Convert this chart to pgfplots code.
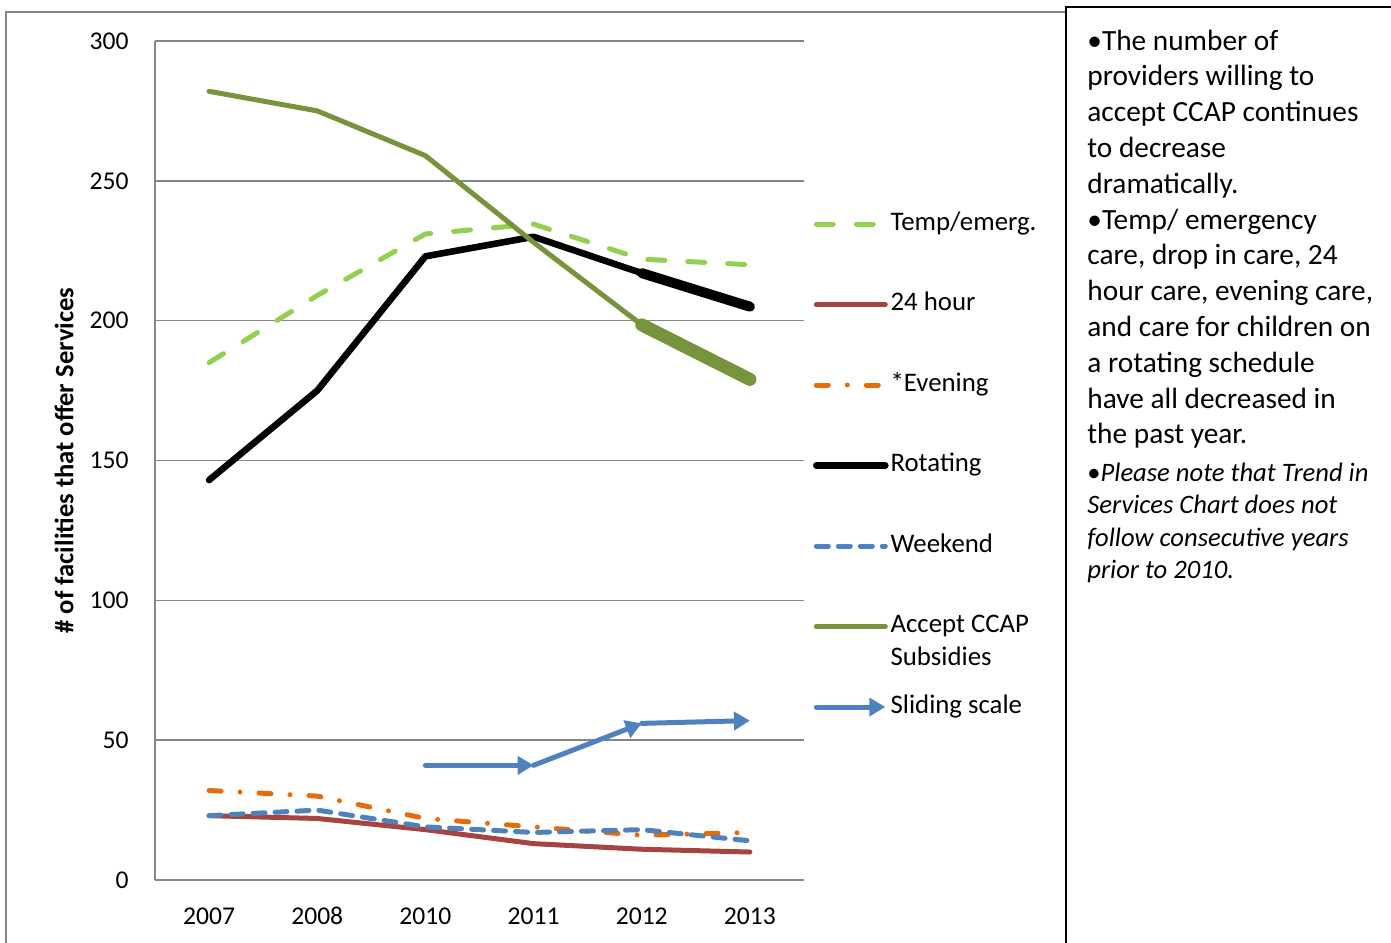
\documentclass[border=0pt]{standalone}
\usepackage{pgfplots}
\pgfplotsset{compat=1.18}
\usepackage{fontspec}
\setmainfont{Carlito}
\usetikzlibrary{arrows.meta}
\definecolor{gridgray}{HTML}{868686}
\definecolor{tempc}{HTML}{92D050}
\definecolor{hourc}{HTML}{A64441}
\definecolor{evec}{HTML}{E46C0A}
\definecolor{weekc}{HTML}{4F81BD}
\definecolor{ccapc}{HTML}{77933C}
\definecolor{slidec}{HTML}{4F81BD}
\begin{document}
\begin{tikzpicture}[x=1pt,y=1pt]
\useasboundingbox (0,0) rectangle (695.5,471);
\begin{scope}
\clip (0,0) rectangle (695.5,471);
\draw[gridgray, line width=1pt] (3,-5) -- (3,465) -- (533,465);
\draw[black, line width=1.1pt] (533,-5) -- (533,467.5) -- (705,467.5);
\end{scope}
\begin{axis}[
  at={(77.5pt,31pt)}, anchor=south west,
  scale only axis, width=324.5pt, height=419.5pt,
  xmin=-0.5, xmax=5.5, ymin=0, ymax=300,
  xtick={0,...,5}, xticklabels={2007,2008,2010,2011,2012,2013},
  ytick={0,50,...,300},
  axis lines*=left,
  axis line style={-, gridgray, line width=1pt},
  major tick length=0pt,
  ymajorgrids, grid style={gridgray, line width=0.75pt},
  /pgf/number format/assume math mode=true,
  tick label style={font=\fontsize{12.8}{15}\selectfont, inner sep=0pt},
  yticklabel style={xshift=-13pt},
  xticklabel style={yshift=-13.5pt},
  ylabel={\# of facilities that offer Services},
  ylabel style={font=\fontsize{13.3}{15}\selectfont\bfseries, at={(axis description cs:-0.14,0.5)}, anchor=center},
  legend style={at={(1.01387,0.79618)}, anchor=north west, draw=none, fill=none,
    inner sep=0pt, outer sep=0pt,
    font=\fontsize{13.4}{16.5}\selectfont,
    row sep=28.25pt, column sep=1pt,
    nodes={inner sep=0pt, text height=9pt, text depth=3pt},
    cells={anchor=west}},
  legend image code/.code={\draw[#1] (0pt,0pt) -- (34.5pt,0pt);},
  every axis plot/.append style={line join=round, line cap=round},
  clip=false,
]
% Temp/emerg.
\addplot[tempc, line width=2.5pt, dash pattern=on 8.5pt off 11.5pt] coordinates {(0,185) (1,209) (2,231) (3,234.5) (4,222) (5,220)};
\addlegendentry{Temp/emerg.}
% 24 hour
\addplot[hourc, line width=2.5pt] coordinates {(0,23) (1,22) (2,18) (3,13) (4,11) (5,10)};
\addlegendentry{24 hour}
% Evening
\addplot[evec, line width=2.5pt, dash pattern=on 6pt off 9.5pt on 0pt off 9.5pt] coordinates {(0,32) (1,30) (2,22) (3,19) (4,16) (5,17)};
\addlegendentry{*Evening}
% Rotating
\addplot[black, line width=3.3pt] coordinates {(0,143) (1,175) (2,223) (3,230) (4,217) (5,205)};
\addlegendentry{Rotating}
\addplot[black, line width=5pt, forget plot] coordinates {(4,217) (5,205)};
% Weekend
\addplot[weekc, line width=2.5pt, dash pattern=on 6pt off 5pt] coordinates {(0,23) (1,25) (2,19) (3,17) (4,18) (5,14)};
\addlegendentry{Weekend}
% Accept CCAP
\addplot[ccapc, line width=2.5pt] coordinates {(0,282) (1,275) (2,259) (3,228) (4,198.5) (5,179)};
\addlegendentry{\begin{tabular}[t]{@{}l@{}}Accept CCAP\\Subsidies\end{tabular}}
\addplot[ccapc, line width=6.5pt, forget plot] coordinates {(4,198.5) (5,179)};
% Sliding scale
\addplot[slidec, line width=2.5pt, -{Triangle[length=8pt,width=9pt]}] coordinates {(2,41) (3,41)};
\addlegendentry{Sliding scale}
\addplot[slidec, line width=2.5pt, -{Triangle[length=8pt,width=9pt]}, forget plot] coordinates {(3,41) (4,56)};
\addplot[slidec, line width=2.5pt, -{Triangle[length=8pt,width=9pt]}, forget plot] coordinates {(4,56) (5,57)};
\end{axis}
\node[anchor=base west, align=left, inner sep=0pt, font=\fontsize{14.66}{17.9}\selectfont] at (543.5,249)
{•The number of\\providers willing to\\accept CCAP continues\\to decrease\\dramatically.\\•Temp/ emergency\\care, drop in care, 24\\hour care, evening care,\\and care for children on\\a rotating schedule\\have all decreased in\\the past year.};
\node[anchor=base west, align=left, inner sep=0pt, font=\fontsize{13.3}{16.25}\selectfont\itshape] at (543.5,181.5)
{{\upshape•}Please note that Trend in\\Services Chart does not\\follow consecutive years\\prior to 2010.};
\end{tikzpicture}
\end{document}
